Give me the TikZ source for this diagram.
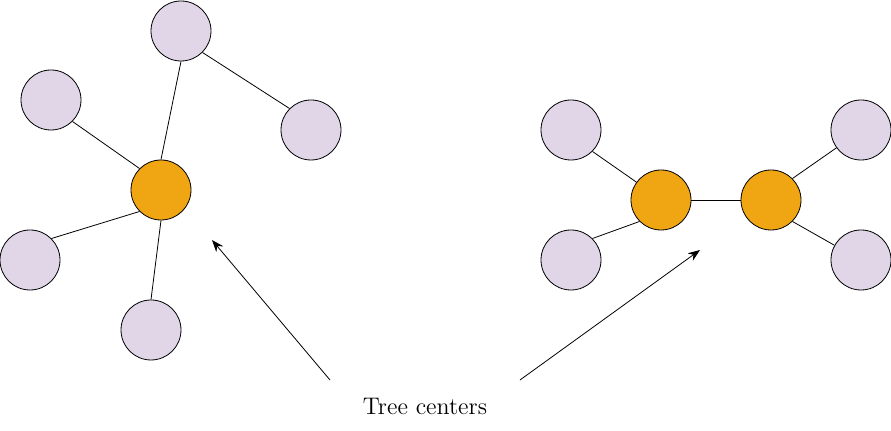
\documentclass[tikz,border=0pt]{standalone}
\usetikzlibrary{arrows.meta}
\definecolor{leafcol}{RGB}{224,214,232}
\definecolor{centercol}{RGB}{240,165,18}
\begin{document}
\begin{tikzpicture}[x=0.5pt,y=-0.5pt]
\tikzstyle{every node}+=[inner sep=0pt]
\tikzset{leaf/.style={circle,draw=black,fill=leafcol,minimum size=30pt},
  center/.style={circle,draw=black,fill=centercol,minimum size=30pt}}
\useasboundingbox (0,0) rectangle (891,431);
% first tree
\node [center] (c) at (161,190) {};
\node [leaf] (t) at (181,31) {};
\node [leaf] (ul) at (51,100) {};
\node [leaf] (r) at (311,130) {};
\node [leaf] (l) at (30,260) {};
\node [leaf] (b) at (151,330) {};
\draw (c.north) -- (t.south);
\draw (ul.south east) -- (c.north west);
\draw (l.north east) -- (c.south west);
\draw (c.south) -- (b.north);
\draw (t.south east) -- (r.north west);
% second tree
\node [center] (c1) at (661,200) {};
\node [center] (c2) at (771,200) {};
\node [leaf] (a1) at (571,130) {};
\node [leaf] (a2) at (571,260) {};
\node [leaf] (b1) at (861,130) {};
\node [leaf] (b2) at (861,260) {};
\draw (c1.east) -- (c2.west);
\draw (a1.south east) -- (c1.144);
\draw (a2.north east) -- (c1.south west);
\draw (c2.north east) -- (b1.216);
\draw (c2.south east) -- (b2.151);
% label
\node [font=\large] (lbl) at (425,406) {Tree centers};
\coordinate (s1) at (330,380);
\coordinate (e1) at (212,240);
\coordinate (s2) at (520,380);
\coordinate (e2) at (700,250);
\draw [-{Stealth[length=6pt,width=4.5pt]}] (s1) -- (e1);
\draw [-{Stealth[length=6pt,width=4.5pt]}] (s2) -- (e2);
\end{tikzpicture}
\end{document}
